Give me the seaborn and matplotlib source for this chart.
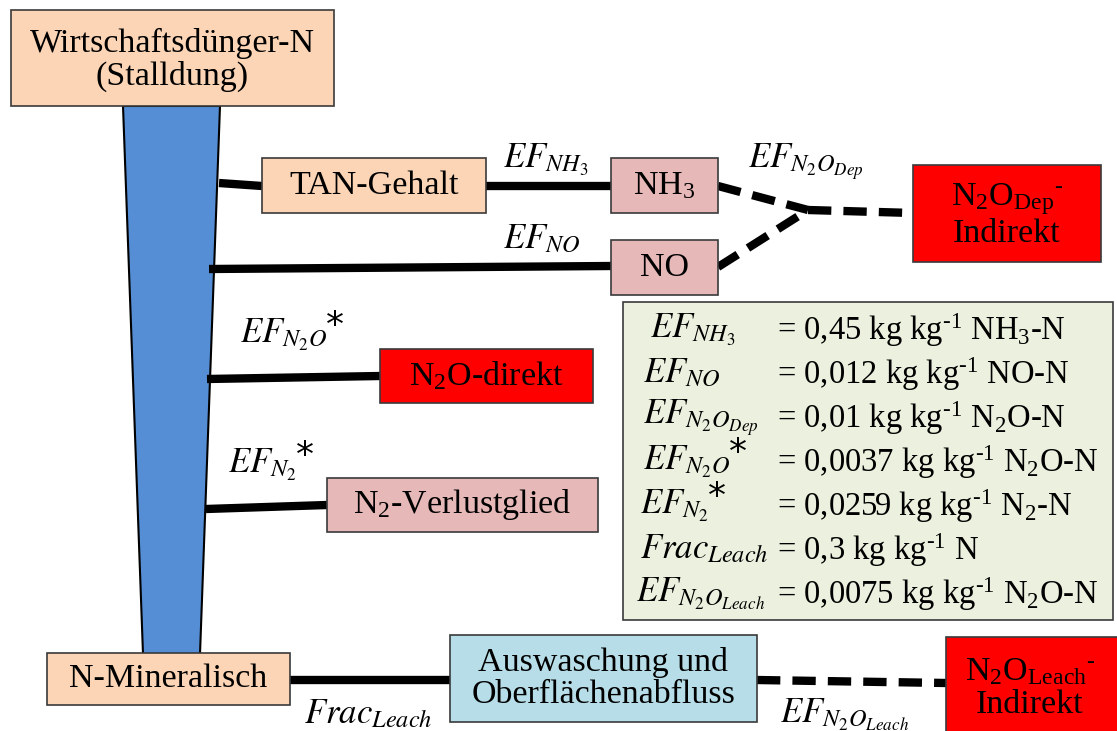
import matplotlib
matplotlib.use("Agg")
import matplotlib.pyplot as plt
from matplotlib.patches import Rectangle, Polygon
import seaborn as sns

# ---------------- data (labels / values) ----------------
source_label = "Wirtschaftsdünger-N\n(Stalldung)"
sink_label = "N-Mineralisch"
node_labels = ["TAN-Gehalt", "NH$_3$", "NO", "N$_2$O$_{\\mathrm{Dep}}$$^{\\mathrm{\u2010}}$\nIndirekt",
               "N$_2$O-direkt", "N$_2$-Verlustglied",
               "Auswaschung und\nOberflächenabfluss",
               "N$_2$O$_{\\mathrm{Leach}}$$^{\\mathrm{\u2010}}$\nIndirekt"]
flow_labels = ["$EF_{NH_3}$", "$EF_{NO}$", "$EF_{N_2O_{Dep}}$", "$EF_{N_2O}$",
               "$EF_{N_2}$", "$Frac_{Leach}$", "$EF_{N_2O_{Leach}}$"]
flow_starred = [False, False, False, True, True, False, False]
factor_values = ["0,45", "0,012", "0,01", "0,0037", "0,0259", "0,3", "0,0075"]
factor_units = ["NH$_3$-N", "NO-N", "N$_2$O-N", "N$_2$O-N", "N$_2$-N", "N", "N$_2$O-N"]

# ---------------- style ----------------
sns.set_theme(style="white")
plt.rcParams["font.family"] = ["Liberation Serif", "DejaVu Serif"]
plt.rcParams["text.color"] = "black"
plt.rcParams["mathtext.fontset"] = "custom"
plt.rcParams["mathtext.rm"] = "Liberation Serif"
plt.rcParams["mathtext.it"] = "Liberation Serif:italic"

PEACH = "#FBD5B5"
PINK = "#E6B9B8"
RED = "#FF0000"
LBLUE = "#B7DEE8"
BLUE = "#558ED5"
PANEL = "#EBF1DE"
EDGE = "#3A3A3A"

fig = plt.figure(figsize=(11.17, 7.31), dpi=100)
ax = fig.add_axes([0, 0, 1, 1])
ax.set_xlim(0, 1117)
ax.set_ylim(731, 0)
ax.axis("off")
renderer = fig.canvas.get_renderer()
inv = ax.transData.inverted()

FS = 24.5      # box text
FS_EF = 25     # italic factor labels
FS_TAB = 23.5  # panel values


def box(x0, y0, x1, y1, color, text, tx=None, ty=None, fs=FS, ls=1.1):
    ax.add_patch(Rectangle((x0, y0), x1 - x0, y1 - y0, facecolor=color,
                           edgecolor=EDGE, lw=1.2, zorder=3))
    ax.text((x0 + x1) / 2 if tx is None else tx, (y0 + y1) / 2 if ty is None else ty,
            text, ha="center", va="center", fontsize=fs, linespacing=ls,
            color="black", zorder=4)


def conn(xs, ys, dashed=False):
    sns.lineplot(x=xs, y=ys, ax=ax, color="black", lw=6.0, sort=False,
                 estimator=None, zorder=2, solid_capstyle="butt",
                 dash_capstyle="butt",
                 linestyle=(0, (2.8, 1.45)) if dashed else "-")


def eflabel(x, y, text, star=False, fs=FS_EF):
    t = ax.text(x, y, text, ha="left", va="center", fontsize=fs,
                math_fontfamily="stix", color="black", zorder=4)
    if star:
        bb = t.get_window_extent(renderer)
        sx, sy = inv.transform((bb.x1, bb.y1))
        ax.text(sx - 1, sy - 8, "*", ha="left", va="top", fontsize=fs + 1,
                family="DejaVu Sans", color="black", zorder=4)


# blue trapezoid (flow column)
ax.add_patch(Polygon([(123, 106), (220, 106), (200, 654), (143, 654)], closed=True,
                     facecolor=BLUE, edgecolor="black", lw=1.5, zorder=1))

# connectors
conn([219, 262], [183, 186])
conn([486, 611], [186, 186])
conn([718, 808], [186, 210], dashed=True)
conn([718, 808], [267, 210], dashed=True)
conn([808, 913], [210, 213], dashed=True)
conn([209, 611], [269, 266])
conn([207, 380], [379, 376])
conn([206, 327], [509, 505])
conn([290, 450], [680, 680])
conn([757, 946], [680, 683], dashed=True)

# boxes
box(11, 10, 334, 106, PEACH, source_label, ty=60)
box(262, 158, 486, 213, PEACH, node_labels[0])
box(611, 158, 718, 213, PINK, node_labels[1])
box(611, 240, 718, 295, PINK, node_labels[2])
box(913, 165, 1101, 262, RED, node_labels[3], ty=215)
box(380, 349, 593, 403, RED, node_labels[4])
box(327, 478, 598, 532, PINK, node_labels[5])
box(47, 653, 290, 705, PEACH, sink_label)
box(450, 635, 757, 722, LBLUE, node_labels[6])
box(946, 637, 1130, 745, RED, node_labels[7], tx=1030, ty=688)

# flow labels on the diagram
flow_pos = [(503, 160), (503, 240), (748, 162), (240, 335),
            (228, 465), (304, 715), (780, 715)]
for (fx, fy), lab, st in zip(flow_pos, flow_labels, flow_starred):
    eflabel(fx, fy, lab, st)

# factor panel
ax.add_patch(Rectangle((623, 302), 490, 318, facecolor=PANEL, edgecolor=EDGE,
                       lw=1.2, zorder=3))
row_y = [330, 374, 418, 462, 506, 550, 594]
label_x = [650, 643, 643, 643, 640, 640, 636]
for i in range(len(flow_labels)):
    eflabel(label_x[i], row_y[i], flow_labels[i], flow_starred[i])
    ax.text(777, row_y[i],
            "= " + factor_values[i] + " kg kg$^{\\mathrm{\u2010}1}$ " + factor_units[i],
            ha="left", va="center", fontsize=FS_TAB, color="black", zorder=4)

fig.savefig("out.png", dpi=100)
